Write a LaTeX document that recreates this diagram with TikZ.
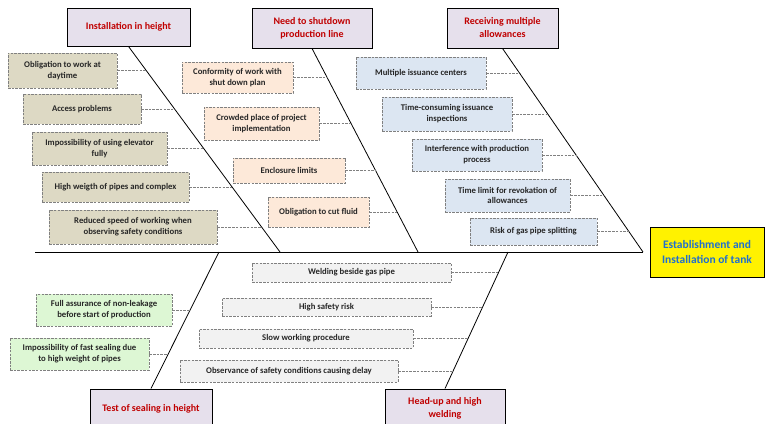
\documentclass[tikz,border=0pt]{standalone}
\usepackage{fontspec}
\setmainfont{Carlito}
\usepackage{xcolor}
\usepackage{tikz}
\definecolor{catfill}{HTML}{E6E0EC}
\definecolor{catred}{HTML}{C00000}
\definecolor{headblue}{HTML}{1F6FD0}
\definecolor{tanfill}{HTML}{DDD9C4}
\definecolor{peachfill}{HTML}{FDE9D9}
\definecolor{bluefill}{HTML}{DCE6F2}
\definecolor{greenfill}{HTML}{DDF7D4}
\definecolor{grayfill}{HTML}{F2F2F2}
\definecolor{dashgray}{HTML}{808080}

\begin{document}
\begin{tikzpicture}[x=1pt, y=-1pt,
        cat/.style={draw, line width=0.9pt, fill=catfill, text=catred, align=center, inner sep=0pt,
            font=\bfseries\fontsize{10}{13}\selectfont},
        cause/.style={draw=dashgray, line width=0.7pt, dash pattern=on 2.5pt off 1.2pt, text=black!85,
            align=center, inner sep=0pt, font=\bfseries\fontsize{8.7}{10.8}\selectfont},
        conn/.style={draw=dashgray, line width=0.7pt, dash pattern=on 2.5pt off 1.2pt}]
        \useasboundingbox (0,0) rectangle (765,423);

        % head and categories
        \node[draw, line width=0.9pt, fill=yellow, text=headblue, align=center, inner sep=0pt,
              font=\bfseries\fontsize{11.5}{15}\selectfont, minimum width=114pt, minimum height=50pt]
              (head) at (707,252) {Establishment and\\Installation of tank};
        \node[cat, minimum width=123pt, minimum height=38pt] (c1) at (128.5,27) {Installation in height};
        \node[cat, minimum width=120pt, minimum height=40pt] (c2) at (312,28) {Need to shutdown\\production line};
        \node[cat, minimum width=111pt, minimum height=40pt] (c3) at (502.5,28) {Receiving multiple\\allowances};
        \node[cat, minimum width=122pt, minimum height=39pt] (c4) at (151,408.5) {Test of sealing in height};
        \node[cat, minimum width=120pt, minimum height=39pt] (c5) at (445,408.5) {Head-up and high\\welding};

        % spine and bones
        \coordinate (tail) at (35,252);
        \coordinate (s1) at (280,252);
        \coordinate (s2) at (418,252);
        \coordinate (s3) at (643,252);
        \coordinate (s4) at (219,252);
        \coordinate (s5) at (508,252);
        \draw[line width=0.9pt] (tail) -- (s3);
        \draw[line width=0.8pt] (c1.south) -- (s1);
        \draw[line width=0.8pt] (c2.south) -- (s2);
        \draw[line width=0.8pt] (c3.south) -- (s3);
        \draw[line width=0.8pt] (c4.north) -- (s4);
        \draw[line width=0.8pt] (c5.north) -- (s5);

        % causes
        \node[cause, fill=tanfill, minimum width=109pt, minimum height=35pt] (c1a) at (62.5,70.5) {Obligation to work at\\daytime};
        \node[cause, fill=tanfill, minimum width=118pt, minimum height=30pt] (c1b) at (82,109) {Access problems};
        \node[cause, fill=tanfill, minimum width=135pt, minimum height=33pt] (c1c) at (99.5,148.5) {Impossibility of using elevator\\fully};
        \node[cause, fill=tanfill, minimum width=147pt, minimum height=30pt] (c1d) at (115.5,187) {High weigth of pipes and complex};
        \node[cause, fill=tanfill, minimum width=168pt, minimum height=34pt] (c1e) at (133,227) {Reduced speed of working when\\observing safety conditions};

        \node[cause, fill=peachfill, minimum width=111pt, minimum height=31pt] (c2a) at (237.5,77.5) {Conformity of work with\\shut down plan};
        \node[cause, fill=peachfill, minimum width=115pt, minimum height=33pt] (c2b) at (261.5,123.5) {Crowded place of project\\implementation};
        \node[cause, fill=peachfill, minimum width=112pt, minimum height=25pt] (c2c) at (289,170.5) {Enclosure limits};
        \node[cause, fill=peachfill, minimum width=101pt, minimum height=30pt] (c2d) at (318.5,212) {Obligation to cut fluid};

        \node[cause, fill=bluefill, minimum width=130pt, minimum height=32pt] (c3a) at (421,73) {Multiple issuance centers};
        \node[cause, fill=bluefill, minimum width=130pt, minimum height=34pt] (c3b) at (447,114) {Time-consuming issuance\\inspections};
        \node[cause, fill=bluefill, minimum width=130pt, minimum height=32pt] (c3c) at (477,155) {Interference with production\\process};
        \node[cause, fill=bluefill, minimum width=125pt, minimum height=33pt] (c3d) at (507.5,195.5) {Time limit for revokation of\\allowances};
        \node[cause, fill=bluefill, minimum width=127pt, minimum height=27pt] (c3e) at (533.5,231.5) {Risk of gas pipe splitting};

        \node[cause, fill=greenfill, minimum width=136pt, minimum height=32pt] (c4a) at (104,310) {Full assurance of non-leakage\\before start of production};
        \node[cause, fill=greenfill, minimum width=139pt, minimum height=32pt] (c4b) at (79.5,354) {Impossibility of fast sealing due\\to high weight of pipes};

        \node[cause, fill=grayfill, minimum width=199pt, minimum height=19pt] (c5a) at (351.5,272.5) {Welding beside gas pipe};
        \node[cause, fill=grayfill, minimum width=209pt, minimum height=18pt] (c5b) at (326.5,307) {High safety risk};
        \node[cause, fill=grayfill, minimum width=214pt, minimum height=19pt] (c5c) at (306,338.5) {Slow working procedure};
        \node[cause, fill=grayfill, minimum width=218pt, minimum height=22pt] (c5d) at (289,371) {Observance of safety conditions causing delay};

        % dashed links, ending on the bones
        \foreach \k/\x in {c1a/146.5, c1b/174.8, c1c/203.8, c1d/232.1, c1e/261.6,
                           c2a/327.3, c2b/351.3, c2c/375.7, c2d/397.3,
                           c3a/519.7, c3b/548, c3c/576.2, c3d/604.1, c3e/628.9,
                           c4a/190.2, c4b/168.4,
                           c5a/498.6, c5b/482.7, c5c/468.2, c5d/453.3}
            \draw[conn] (\k.east) -- (\k.east -| \x,0);
\end{tikzpicture}
\end{document}
